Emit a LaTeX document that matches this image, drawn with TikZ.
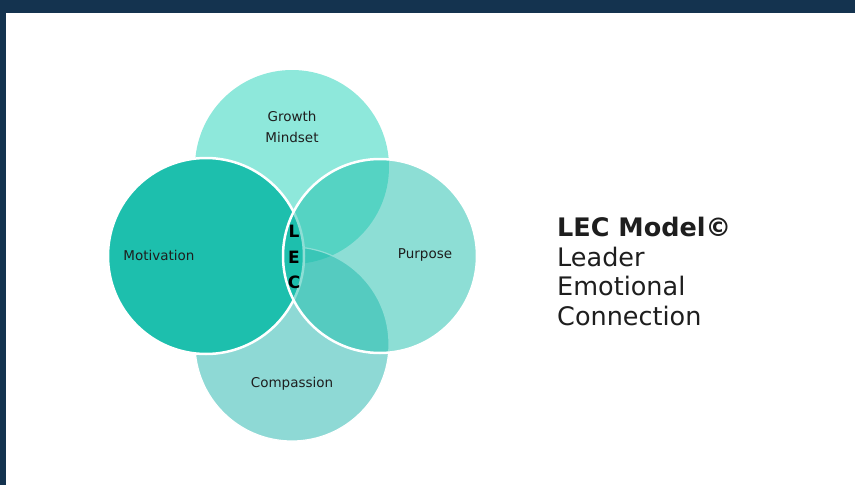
\documentclass[tikz,border=0pt]{standalone}
\usepackage{fontspec}
\setmainfont{DejaVu Sans}
\definecolor{navy}{HTML}{14334F}
\definecolor{lecteal}{HTML}{1DBFAD}
\definecolor{mint}{HTML}{8EE8DB}
\definecolor{sea}{RGB}{31,181,173}
\definecolor{ink}{HTML}{1E1E1E}
\begin{document}
\begin{tikzpicture}[x=1pt,y=-1pt,
  label/.style={font=\fontsize{13.5}{21}\selectfont, text=ink, align=center},
  letter/.style={font=\fontsize{17}{25.5}\selectfont\bfseries, align=center, inner sep=0},
  caption/.style={font=\fontsize{25.5}{29.5}\selectfont, text=ink, align=left, inner sep=0}]

\fill[navy] (0,0) rectangle (855,485);
\fill[white] (6,13) rectangle (855,485);

\coordinate (growth) at (292,167);
\coordinate (compassion) at (292,344);
\coordinate (motivation) at (206,256);
\coordinate (purpose) at (380,256);

\fill[mint] (growth) circle[radius=97pt];
\draw[white, line width=1.2pt, fill=sea, fill opacity=.5] (compassion) circle[radius=97pt];
\begin{scope}[white, line width=2.5pt]
\draw[fill=lecteal] (motivation) circle[radius=98pt];
\draw[fill=lecteal, fill opacity=.5] (purpose) circle[radius=97pt];
\end{scope}

\node[label] (growthtext) at (292,127) {Growth\\Mindset};
\node[label] (motivationtext) at (159,255) {Motivation};
\node[label] (purposetext) at (425,255) {Purpose};
\node[label] (compassiontext) at (292,384) {Compassion};
\node[letter] (lec) at (294,257) {L\\E\\C};

\node[caption, anchor=north west] (model) at (557,217) {\textbf{LEC Model©}\\Leader\\Emotional\\Connection};

\end{tikzpicture}
\end{document}
